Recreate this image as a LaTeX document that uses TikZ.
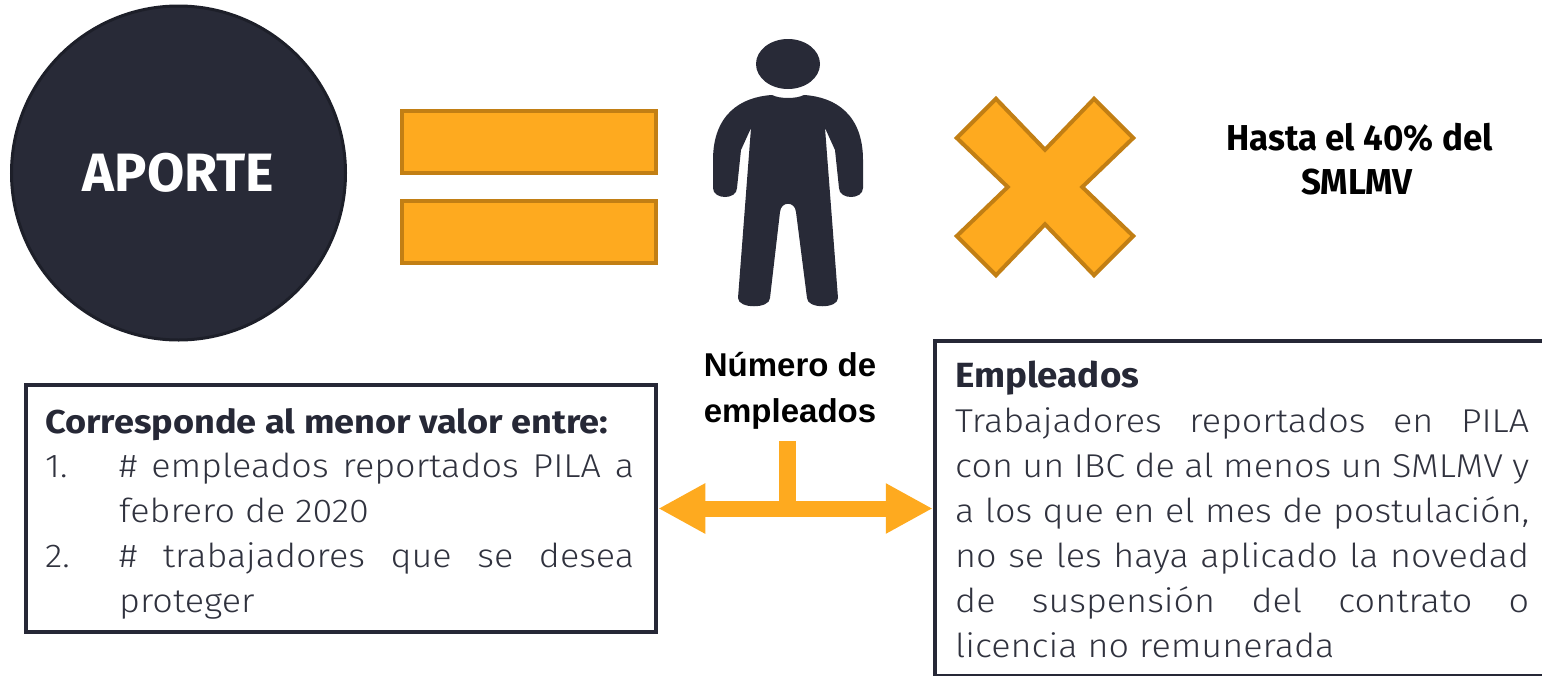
\documentclass[tikz,border=0pt]{standalone}
\usepackage{fontspec}
\setmainfont{Fira Sans}
\newfontfamily\lightf{Fira Sans Light}[FakeStretch=1.09]
\newfontfamily\headf{Fira Sans Bold}[FakeStretch=1.095]
\newfontfamily\emplf{Fira Sans Bold}[FakeStretch=1.05]
\newfontfamily\hastaf{Fira Sans Bold}[FakeStretch=0.97]
\newfontfamily\arialf{Liberation Sans}
\usetikzlibrary{arrows.meta}
\definecolor{navy}{HTML}{282A37}
\definecolor{navyedge}{HTML}{1D1F29}
\definecolor{orangef}{HTML}{FEAA1F}
\definecolor{oranged}{HTML}{C27F14}
\definecolor{txtdark}{HTML}{262836}
\definecolor{txtgrey}{HTML}{30323E}
\newcommand\jl[2]{\makebox[#1][s]{#2}}
\begin{document}
\begin{tikzpicture}[x=1pt,y=-1pt,
  bar/.style={fill=orangef,draw=oranged,line width=4pt,minimum width=254pt,minimum height=62pt,inner sep=0pt},
  boxframe/.style={draw=txtdark,line width=4.5pt,inner sep=0pt},
  headb/.style={font=\headf\fontsize{33}{45}\selectfont,text=txtdark,inner sep=0pt,anchor=base west},
  bodyl/.style={font=\lightf\fontsize{33}{45}\selectfont,text=txtgrey,inner sep=0pt,anchor=base west},
  blackb/.style={font=\hastaf\fontsize{36}{44}\selectfont,text=black,inner sep=0pt,anchor=base},
  numb/.style={font=\arialf\bfseries\fontsize{33}{44}\selectfont,text=black,inner sep=0pt,anchor=base},
  orangearrow/.style={draw=orangef,line width=16pt,{Triangle[length=47pt,width=47pt]}-{Triangle[length=47pt,width=47pt]}},
  stemline/.style={draw=orangef,line width=17pt}]
\useasboundingbox (0,0) rectangle (1542,675);
% circle
\node[circle,fill=navy,draw=navyedge,line width=3pt,minimum size=334pt,inner sep=0pt,
  text=white,font=\bfseries\fontsize{54}{54}\selectfont] (aporte) at (178.5,173) {\raisebox{-4pt}{APORTE}};
% equal sign
\node[bar] (bar1) at (529,142) {};
\node[bar] (bar2) at (529,232) {};
% person
\fill[navy] (788,64) ellipse [x radius=32pt,y radius=25pt];
\fill[navy] (772,95) .. controls (740,97) and (713,115) .. (713,160)
  -- (713,188) .. controls (713,200) and (737,200) .. (737,188)
  -- (741,150) -- (751,128)
  -- (738,298) .. controls (738,309) and (770,309) .. (770,298)
  -- (780,212) .. controls (781,201) and (795,201) .. (796,212)
  -- (807,298) .. controls (807,309) and (838,309) .. (838,298)
  -- (825,128) -- (835,150) -- (839,188) .. controls (839,200) and (863,200) .. (863,188)
  -- (863,160) .. controls (863,115) and (836,97) .. (804,95)
  .. controls (796,99) and (780,99) .. (772,95) -- cycle;
% multiplication sign
\begin{scope}[shift={(1045,187)},scale=0.98]
\filldraw[fill=orangef,draw=oranged,line width=4pt,line join=miter]
  (-50,-90) -- (0,-38) -- (50,-90) -- (90,-50) -- (38,0) -- (90,50) -- (50,90)
  -- (0,38) -- (-50,90) -- (-90,50) -- (-38,0) -- (-90,-50) -- cycle;
\end{scope}
% top right text
\node[blackb] (hasta1) at (1359.5,150) {Hasta el 40\% del};
\node[blackb] (hasta2) at (1357,194) {SMLMV};
% numero de empleados
\node[numb] (num1) at (790,376) {Número de};
\node[numb] (num2) at (790,422) {empleados};
% boxes
\node[boxframe,minimum width=630pt,minimum height=247pt] (leftbox) at (341,508.5) {};
\node[boxframe,minimum width=800pt,minimum height=335pt] (rightbox) at (1335,508.5) {};
% arrow
\coordinate (stemtop) at (787.5,441);
\coordinate (stembot) at (787.5,508.5);
\draw[orangearrow] (leftbox.east) -- (rightbox.west);
\draw[stemline] (stemtop) -- (stembot);
% left box text
\node[headb] (lh) at (45,433) {Corresponde al menor valor entre:};
\node[bodyl] (l1n) at (45,477) {1.};
\node[bodyl] (l1) at (119,477) {\jl{515pt}{\# empleados reportados PILA a}};
\node[bodyl] (l2) at (119,522) {febrero de 2020};
\node[bodyl] (l3n) at (45,567) {2.};
\node[bodyl] (l3) at (119,567) {\jl{515pt}{\# trabajadores que se desea}};
\node[bodyl] (l4) at (119,612) {proteger};
% right box text
\node[headb,font=\emplf\fontsize{35}{45}\selectfont] (rh) at (955,387) {Empleados};
\node[bodyl] (r1) at (955,432) {\jl{574pt}{Trabajadores reportados en PILA}};
\node[bodyl] (r2) at (955,477) {\jl{574pt}{con un IBC de al menos un SMLMV y}};
\node[bodyl] (r3) at (955,522) {\jl{574pt}{a los que en el mes de postulación,}};
\node[bodyl] (r4) at (955,567) {\jl{574pt}{no se les haya aplicado la novedad}};
\node[bodyl] (r5) at (955,612) {\jl{574pt}{de suspensión del contrato o}};
\node[bodyl] (r6) at (955,657) {licencia no remunerada};
\end{tikzpicture}
\end{document}
